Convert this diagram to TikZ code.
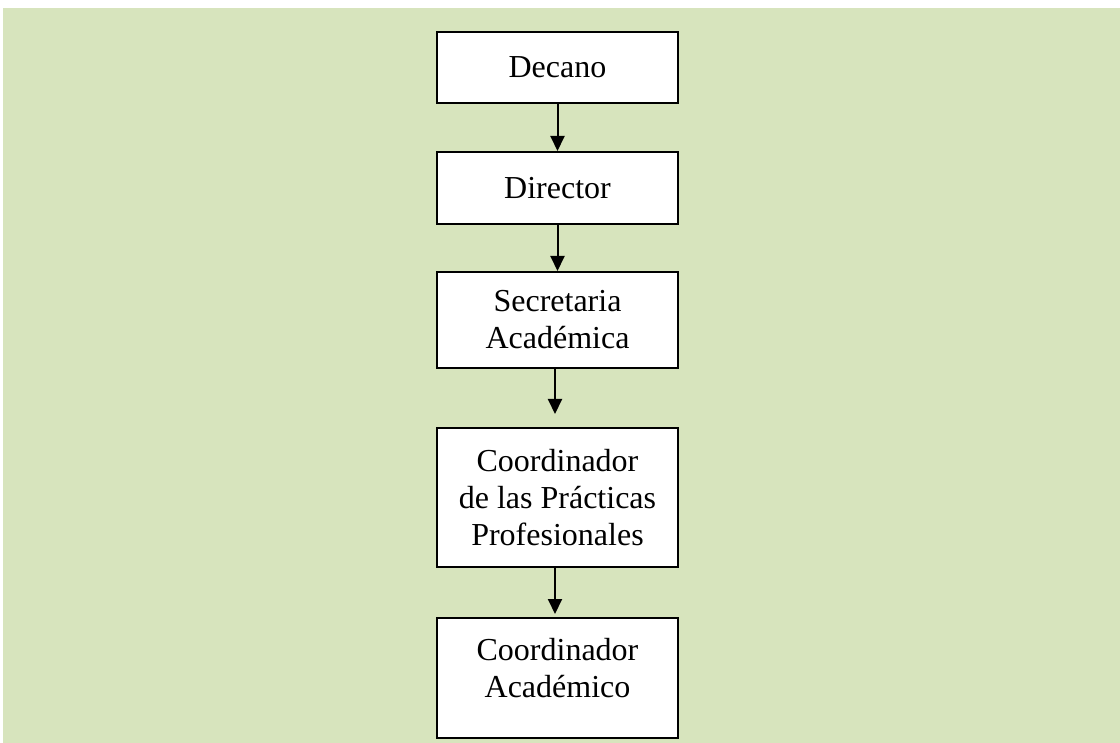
\documentclass[tikz,border=0pt]{standalone}
\usetikzlibrary{arrows.meta}
\usepackage{fontspec}
\setmainfont{Liberation Serif}
\definecolor{fondo}{HTML}{D7E4BD}

\begin{document}
\begin{tikzpicture}[x=0.5pt,y=-0.5pt,line width=1pt,>={Triangle[length=7.5pt,width=7pt]},
  cargo/.style={draw,fill=white,minimum width=120.5pt,inner sep=0pt,align=center,
    font=\fontsize{16}{18.5}\selectfont}]
  % page and background
  \useasboundingbox (0,0) rectangle (1120,743);
  \fill[fondo] (3,8) rectangle (1120,743);
  % boxes
  \node[cargo,minimum height=35.5pt] (decano) at (557.5,67.5) {Decano};
  \node[cargo,minimum height=36pt] (director) at (557.5,188) {Director};
  \node[cargo,minimum height=48pt] (secretaria) at (557.5,320) {Secretaria\\Académica};
  \node[cargo,minimum height=69.5pt] (practicas) at (557.5,497.5) {Coordinador\\de las Prácticas\\Profesionales};
  \node[cargo,minimum height=60pt] (academico) at (557.5,678) {Coordinador\\Académico\\[-8.5pt]\mbox{}};
  % arrows
  \draw[->] (decano) -- (director);
  \draw[->] (director) -- (secretaria);
  \draw[->,shorten >=6.5pt] ([xshift=-1.25pt]secretaria.south) -- ([xshift=-1.25pt]practicas.north);
  \draw[->,shorten >=1.5pt] ([xshift=-1.25pt]practicas.south) -- ([xshift=-1.25pt]academico.north);
\end{tikzpicture}
\end{document}
